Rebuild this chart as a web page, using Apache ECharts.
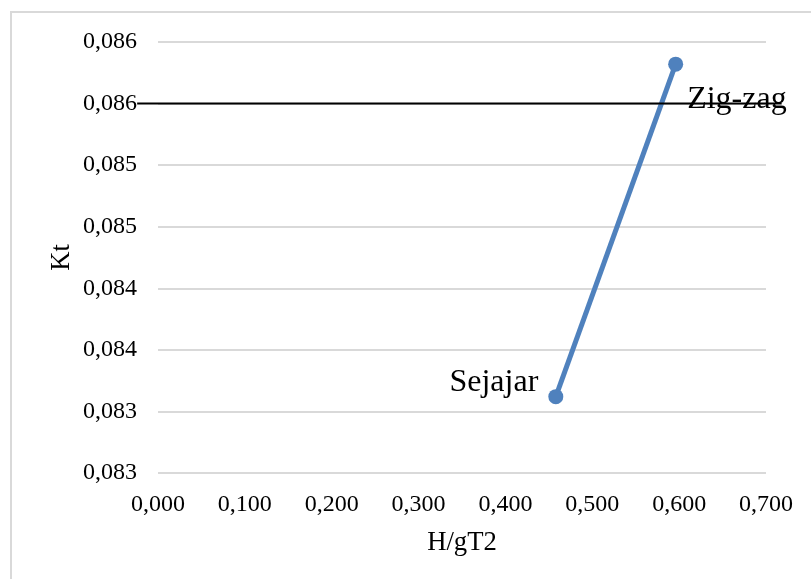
<!DOCTYPE html>
<html>
<head>
<meta charset="utf-8">
<script src="https://cdn.jsdelivr.net/npm/echarts@6/dist/echarts.min.js"></script>
<style>
html,body{margin:0;padding:0;background:#fff;}
#chart{width:811px;height:579px;}
</style>
</head>
<body>
<div id="chart"></div>
<script>
// Data
const pointNames = ['Sejajar', 'Zig-zag'];
const xValues = [0.458, 0.596];
const ktValues = [0.08362, 0.08632];
const refLineX = [-0.024, 0.718];
const refLineY = [0.086, 0.086];
const yTickLabels = ['0,083','0,083','0,084','0,084','0,085','0,085','0,086','0,086'];
const xTitle = 'H/gT2';
const yTitle = 'Kt';

const FONT = '"Liberation Serif", "Times New Roman", serif';
const chart = echarts.init(document.getElementById('chart'), null, {renderer: 'canvas'});

const labelCfg = [
  {position: 'left', distance: 10, offset: [0, -14]},
  {position: 'right', distance: 4, offset: [0, 35]}
];
const mainData = xValues.map((x, i) => ({
  value: [x, ktValues[i]],
  name: pointNames[i],
  label: labelCfg[i]
}));

chart.setOption({
  backgroundColor: '#ffffff',
  animation: false,
  textStyle: {fontFamily: FONT},
  grid: {left: 158, right: 45, top: 42, bottom: 106, containLabel: false},
  xAxis: {
    type: 'value',
    min: 0, max: 0.7, interval: 0.1,
    name: xTitle,
    nameLocation: 'middle',
    nameGap: 56,
    nameTextStyle: {fontFamily: FONT, fontSize: 26.7, color: '#000'},
    axisLine: {show: false},
    axisTick: {show: false},
    splitLine: {show: false},
    axisLabel: {
      fontFamily: FONT, fontSize: 24, color: '#000', margin: 20,
      formatter: v => v.toFixed(3).replace('.', ',')
    }
  },
  yAxis: {
    type: 'value',
    min: 0.083, max: 0.0865, interval: 0.0005,
    name: yTitle,
    nameLocation: 'middle',
    nameGap: 83,
    nameMoveOverlap: false,
    nameRotate: 90,
    nameTextStyle: {fontFamily: FONT, fontSize: 26.7, color: '#000'},
    axisLine: {show: false},
    axisTick: {show: false},
    splitLine: {show: true, lineStyle: {color: '#d9d9d9', width: 2}},
    axisLabel: {
      fontFamily: FONT, fontSize: 24, color: '#000', margin: 21,
      formatter: (v, i) => yTickLabels[i] !== undefined ? yTickLabels[i] : ''
    }
  },
  series: [
    {
      type: 'line',
      data: mainData,
      z: 2,
      symbol: 'circle',
      symbolSize: 15,
      lineStyle: {color: '#4f81bd', width: 5},
      itemStyle: {color: '#4f81bd'},
      label: {
        show: true,
        formatter: p => p.name,
        fontFamily: FONT,
        fontSize: 32,
        color: '#000'
      }
    }
  ]
});

// reference line (positions computed through the chart's own scales)
const p0 = chart.convertToPixel({gridIndex: 0}, [refLineX[0], refLineY[0]]);
const p1 = chart.convertToPixel({gridIndex: 0}, [refLineX[1], refLineY[1]]);
chart.setOption({
  graphic: [
    {
      type: 'rect',
      shape: {x: 11, y: 12, width: 840, height: 620},
      style: {fill: 'none', stroke: '#d9d9d9', lineWidth: 2},
      silent: true,
      z: -1
    },
    {
      type: 'line',
      shape: {x1: p0[0], y1: p0[1], x2: p1[0], y2: p1[1]},
      style: {stroke: '#000', lineWidth: 2},
      silent: true,
      z: 100
    }
  ]
});
</script>
</body>
</html>
